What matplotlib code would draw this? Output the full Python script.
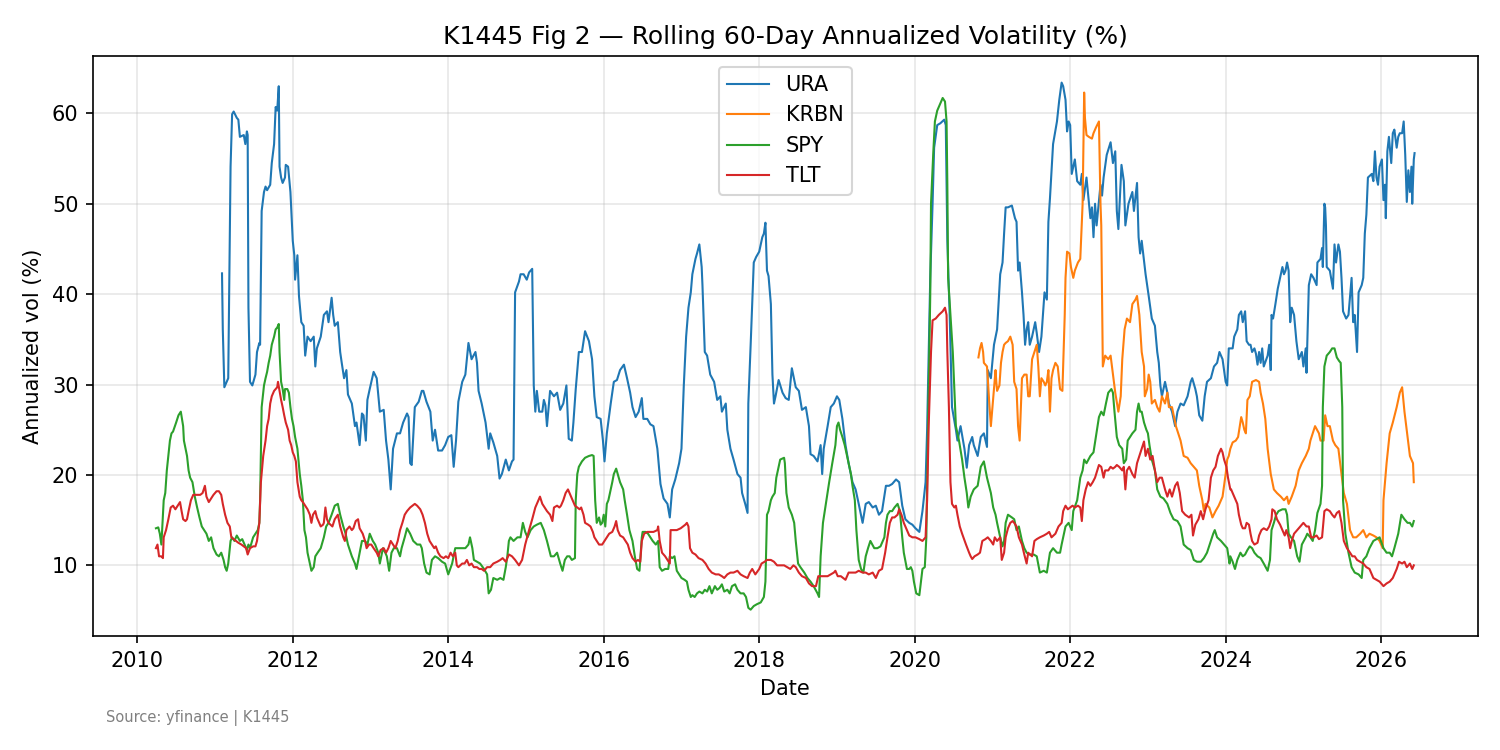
import matplotlib.pyplot as plt
import numpy as np

# Rolling 60-day annualized vol as (year, vol %)
ura = [
    (2011.09, 42.3), (2011.10, 36.1), (2011.12, 29.7), (2011.15, 30.3), (2011.17, 30.7),
    (2011.20, 54.1), (2011.22, 59.9), (2011.24, 60.2), (2011.28, 59.5), (2011.30, 59.3),
    (2011.32, 57.4), (2011.37, 57.6), (2011.39, 56.6), (2011.41, 58.0), (2011.42, 57.6),
    (2011.43, 38.5), (2011.45, 30.3), (2011.48, 29.9), (2011.52, 31.1), (2011.54, 33.6),
    (2011.57, 34.6), (2011.58, 34.4), (2011.60, 49.2), (2011.63, 51.3), (2011.65, 51.9),
    (2011.67, 51.5), (2011.71, 52.1), (2011.73, 54.5), (2011.76, 56.6), (2011.78, 60.7),
    (2011.80, 60.3), (2011.82, 63.0), (2011.83, 54.1), (2011.85, 52.9), (2011.87, 52.3),
    (2011.90, 52.9), (2011.91, 54.3), (2011.94, 54.1), (2011.97, 51.3), (2012.00, 45.9),
    (2012.02, 44.3), (2012.03, 41.6), (2012.06, 44.3), (2012.08, 39.8), (2012.11, 36.9),
    (2012.14, 36.5), (2012.16, 33.2), (2012.19, 35.3), (2012.23, 34.8), (2012.27, 35.3),
    (2012.29, 32.0), (2012.31, 34.0), (2012.36, 35.3), (2012.40, 37.7), (2012.44, 38.1),
    (2012.46, 36.9), (2012.50, 39.6), (2012.52, 37.7), (2012.54, 36.5), (2012.58, 36.9),
    (2012.61, 33.6), (2012.63, 32.4), (2012.66, 30.7), (2012.69, 31.6), (2012.71, 28.9),
    (2012.76, 27.9), (2012.80, 25.4), (2012.82, 25.8), (2012.86, 23.3), (2012.89, 26.8),
    (2012.91, 26.6), (2012.94, 23.8), (2012.96, 28.3), (2012.99, 29.5), (2013.04, 31.4),
    (2013.08, 30.7), (2013.12, 27.0), (2013.17, 27.2), (2013.20, 23.8), (2013.23, 21.7),
    (2013.26, 18.4), (2013.29, 22.9), (2013.34, 24.6), (2013.38, 24.6), (2013.42, 25.8),
    (2013.47, 26.8), (2013.49, 26.4), (2013.51, 21.3), (2013.53, 21.1), (2013.57, 27.5),
    (2013.62, 28.1), (2013.66, 29.3), (2013.68, 29.3), (2013.72, 28.1), (2013.77, 27.0),
    (2013.80, 23.8), (2013.83, 25.0), (2013.87, 22.7), (2013.92, 22.7), (2013.96, 23.3),
    (2014.00, 24.2), (2014.04, 24.4), (2014.07, 20.9), (2014.10, 23.8), (2014.13, 28.1),
    (2014.18, 30.3), (2014.22, 31.1), (2014.26, 34.6), (2014.30, 32.8), (2014.35, 33.6),
    (2014.37, 32.4), (2014.39, 29.3), (2014.43, 27.9), (2014.48, 25.8), (2014.52, 22.9),
    (2014.54, 24.6), (2014.58, 23.6), (2014.63, 22.1), (2014.66, 19.6), (2014.69, 20.1),
    (2014.74, 21.7), (2014.78, 20.5), (2014.82, 21.5), (2014.84, 21.7), (2014.86, 40.2),
    (2014.91, 41.4), (2014.93, 42.2), (2014.97, 42.2), (2015.01, 41.6), (2015.04, 42.4),
    (2015.08, 42.8), (2015.10, 29.9), (2015.12, 27.0), (2015.14, 29.3), (2015.17, 27.0),
    (2015.21, 27.0), (2015.23, 28.3), (2015.25, 27.7), (2015.27, 25.4), (2015.31, 29.3),
    (2015.36, 28.7), (2015.40, 29.1), (2015.44, 27.2), (2015.48, 27.9), (2015.52, 29.9),
    (2015.55, 24.0), (2015.59, 23.8), (2015.61, 25.8), (2015.64, 29.5), (2015.68, 33.6),
    (2015.72, 33.6), (2015.76, 35.9), (2015.81, 34.8), (2015.85, 32.8), (2015.88, 28.7),
    (2015.91, 26.4), (2015.96, 26.2), (2015.99, 23.8), (2016.01, 21.5), (2016.04, 24.6),
    (2016.09, 27.9), (2016.13, 30.3), (2016.17, 30.5), (2016.21, 31.6), (2016.26, 32.2),
    (2016.30, 30.7), (2016.34, 29.1), (2016.37, 27.5), (2016.41, 26.4), (2016.45, 27.0),
    (2016.49, 28.5), (2016.51, 26.2), (2016.56, 26.2), (2016.60, 25.6), (2016.64, 25.4),
    (2016.69, 22.9), (2016.73, 19.0), (2016.77, 17.4), (2016.82, 16.8), (2016.85, 15.3),
    (2016.88, 18.4), (2016.92, 19.5), (2016.97, 21.3), (2017.00, 22.9), (2017.03, 29.9),
    (2017.06, 35.3), (2017.09, 38.5), (2017.12, 40.2), (2017.14, 42.2), (2017.18, 43.9),
    (2017.20, 44.5), (2017.23, 45.5), (2017.26, 43.0), (2017.27, 41.0), (2017.30, 33.6),
    (2017.33, 33.2), (2017.37, 31.1), (2017.42, 30.3), (2017.46, 28.3), (2017.50, 28.7),
    (2017.52, 27.0), (2017.57, 27.9), (2017.59, 25.0), (2017.63, 22.9), (2017.67, 21.7),
    (2017.72, 20.1), (2017.76, 19.7), (2017.78, 18.0), (2017.82, 16.8), (2017.85, 15.8),
    (2017.86, 27.9), (2017.89, 34.4), (2017.93, 43.5), (2017.96, 44.1), (2018.00, 44.7),
    (2018.04, 46.3), (2018.06, 46.7), (2018.08, 47.9), (2018.10, 42.6), (2018.12, 42.0),
    (2018.15, 38.9), (2018.17, 31.1), (2018.19, 27.9), (2018.21, 28.7), (2018.25, 30.5),
    (2018.30, 29.1), (2018.34, 28.5), (2018.38, 28.3), (2018.42, 31.8), (2018.47, 29.7),
    (2018.51, 29.3), (2018.55, 27.2), (2018.60, 27.5), (2018.64, 25.4), (2018.66, 22.3),
    (2018.70, 22.1), (2018.75, 21.5), (2018.79, 23.3), (2018.81, 20.1), (2018.83, 22.9),
    (2018.88, 25.4), (2018.92, 27.5), (2018.96, 27.9), (2019.00, 28.7), (2019.03, 28.3),
    (2019.07, 26.2), (2019.11, 23.3), (2019.15, 21.3), (2019.20, 19.2), (2019.24, 18.4),
    (2019.28, 16.8), (2019.33, 14.7), (2019.37, 16.8), (2019.41, 17.0), (2019.46, 16.4),
    (2019.50, 16.6), (2019.54, 15.6), (2019.58, 16.0), (2019.63, 18.8), (2019.67, 18.8),
    (2019.71, 19.0), (2019.76, 19.5), (2019.80, 19.2), (2019.84, 16.6), (2019.88, 15.1),
    (2019.93, 14.7), (2019.97, 14.5), (2020.01, 14.1), (2020.06, 13.7), (2020.10, 16.0),
    (2020.14, 19.2), (2020.16, 25.0), (2020.20, 41.8), (2020.23, 50.0), (2020.25, 56.2),
    (2020.29, 58.7), (2020.33, 58.9), (2020.38, 59.3), (2020.40, 58.7), (2020.42, 45.9),
    (2020.45, 37.7), (2020.48, 27.5), (2020.53, 25.0), (2020.55, 23.8), (2020.59, 25.4),
    (2020.64, 22.9), (2020.67, 20.8), (2020.70, 23.3), (2020.74, 24.2), (2020.76, 23.3),
    (2020.81, 22.1), (2020.85, 24.2), (2020.89, 24.6), (2020.93, 23.1), (2020.94, 31.6),
    (2020.98, 30.7), (2021.02, 34.4), (2021.06, 36.1), (2021.10, 42.2), (2021.13, 43.5),
    (2021.15, 46.7), (2021.17, 49.6), (2021.20, 49.6), (2021.25, 49.8), (2021.29, 48.4),
    (2021.31, 48.0), (2021.33, 42.6), (2021.35, 43.5), (2021.38, 40.2), (2021.40, 37.7),
    (2021.42, 34.4), (2021.44, 36.1), (2021.46, 36.9), (2021.48, 34.4), (2021.51, 35.3),
    (2021.55, 36.9), (2021.57, 35.7), (2021.60, 33.6), (2021.63, 35.3), (2021.67, 40.2),
    (2021.70, 39.4), (2021.72, 48.0), (2021.74, 50.6), (2021.78, 56.6), (2021.83, 59.1),
    (2021.86, 61.5), (2021.89, 63.4), (2021.91, 63.0), (2021.94, 61.5), (2021.96, 58.0),
    (2021.98, 59.1), (2022.00, 58.7), (2022.02, 53.3), (2022.04, 54.1), (2022.06, 54.9),
    (2022.09, 52.5), (2022.13, 52.1), (2022.15, 53.3), (2022.17, 50.4), (2022.21, 52.9),
    (2022.26, 48.4), (2022.28, 49.6), (2022.30, 46.3), (2022.32, 50.0), (2022.34, 47.6),
    (2022.39, 52.1), (2022.41, 50.9), (2022.43, 52.9), (2022.47, 55.4), (2022.52, 56.8),
    (2022.55, 54.5), (2022.58, 55.8), (2022.60, 49.2), (2022.62, 47.2), (2022.66, 54.3),
    (2022.69, 52.5), (2022.71, 47.6), (2022.75, 50.0), (2022.80, 51.3), (2022.82, 49.2),
    (2022.86, 52.3), (2022.88, 46.3), (2022.90, 44.5), (2022.92, 45.9), (2022.97, 42.2),
    (2023.01, 39.8), (2023.05, 37.3), (2023.09, 36.5), (2023.12, 33.6), (2023.14, 32.4),
    (2023.16, 29.9), (2023.18, 28.7), (2023.22, 30.3), (2023.25, 29.1), (2023.27, 27.9),
    (2023.31, 27.0), (2023.35, 25.4), (2023.38, 27.0), (2023.42, 27.9), (2023.46, 27.7),
    (2023.51, 28.7), (2023.55, 30.3), (2023.57, 30.7), (2023.61, 29.5), (2023.63, 28.7),
    (2023.66, 26.6), (2023.70, 26.0), (2023.73, 28.7), (2023.76, 30.3), (2023.81, 30.7),
    (2023.85, 32.0), (2023.89, 32.4), (2023.92, 33.6), (2023.96, 32.8), (2024.00, 30.3),
    (2024.02, 29.9), (2024.04, 34.0), (2024.09, 34.0), (2024.11, 35.3), (2024.15, 36.1),
    (2024.17, 37.7), (2024.20, 38.1), (2024.22, 36.9), (2024.25, 38.1), (2024.27, 34.8),
    (2024.30, 34.4), (2024.32, 34.4), (2024.34, 33.6), (2024.37, 34.0), (2024.39, 33.4),
    (2024.41, 32.2), (2024.43, 33.6), (2024.45, 32.4), (2024.47, 34.0), (2024.49, 32.0),
    (2024.54, 33.2), (2024.56, 34.4), (2024.58, 31.6), (2024.59, 37.7), (2024.61, 37.3),
    (2024.64, 38.9), (2024.67, 40.6), (2024.70, 41.8), (2024.73, 43.0), (2024.75, 42.2),
    (2024.77, 42.6), (2024.79, 43.5), (2024.81, 42.6), (2024.83, 36.9), (2024.85, 38.5),
    (2024.88, 37.7), (2024.91, 34.8), (2024.94, 32.8), (2024.98, 33.6), (2025.00, 32.0),
    (2025.03, 34.0), (2025.04, 31.3), (2025.05, 34.4), (2025.07, 41.0), (2025.10, 42.2),
    (2025.13, 41.8), (2025.17, 41.0), (2025.18, 43.5), (2025.22, 43.9), (2025.24, 45.1),
    (2025.25, 43.0), (2025.27, 50.0), (2025.28, 49.6), (2025.29, 47.6), (2025.30, 43.0),
    (2025.34, 42.6), (2025.38, 40.6), (2025.40, 45.5), (2025.42, 43.5), (2025.45, 45.5),
    (2025.47, 44.7), (2025.49, 41.8), (2025.51, 38.1), (2025.55, 37.3), (2025.58, 37.7),
    (2025.60, 39.8), (2025.62, 41.8), (2025.64, 36.9), (2025.66, 37.7), (2025.69, 33.6),
    (2025.71, 40.2), (2025.75, 41.0), (2025.77, 41.8), (2025.79, 46.7), (2025.81, 48.8),
    (2025.83, 52.9), (2025.88, 53.3), (2025.90, 52.5), (2025.92, 55.8), (2025.94, 52.9),
    (2025.96, 52.1), (2025.98, 54.1), (2026.01, 54.9), (2026.03, 50.4), (2026.05, 52.1),
    (2026.06, 48.4), (2026.08, 55.8), (2026.10, 57.4), (2026.13, 54.5), (2026.15, 57.8),
    (2026.17, 58.2), (2026.20, 56.2), (2026.22, 57.4), (2026.24, 57.8), (2026.27, 57.8),
    (2026.29, 59.1), (2026.31, 55.4), (2026.33, 50.2), (2026.35, 53.7), (2026.37, 51.3),
    (2026.39, 54.1), (2026.40, 50.0), (2026.42, 54.9), (2026.43, 55.6),
]

krbn = [
    (2020.82, 33.0), (2020.84, 34.0), (2020.86, 34.6), (2020.88, 33.6), (2020.89, 32.4),
    (2020.93, 32.0), (2020.94, 30.7), (2020.96, 27.9), (2020.98, 25.4), (2021.00, 27.5),
    (2021.02, 29.5), (2021.04, 31.6), (2021.05, 30.3), (2021.06, 29.3), (2021.09, 29.9),
    (2021.11, 32.4), (2021.13, 33.6), (2021.15, 34.4), (2021.17, 34.6), (2021.20, 34.8),
    (2021.23, 35.3), (2021.26, 34.4), (2021.28, 30.3), (2021.31, 29.5), (2021.33, 25.4),
    (2021.35, 23.8), (2021.38, 30.7), (2021.41, 31.1), (2021.44, 31.1), (2021.46, 28.7),
    (2021.48, 28.7), (2021.51, 32.8), (2021.54, 33.6), (2021.57, 34.4), (2021.59, 32.0),
    (2021.61, 28.7), (2021.63, 30.7), (2021.66, 30.3), (2021.68, 29.9), (2021.70, 30.3),
    (2021.72, 31.6), (2021.74, 27.0), (2021.76, 30.7), (2021.78, 31.6), (2021.81, 32.4),
    (2021.84, 32.0), (2021.87, 29.5), (2021.90, 29.3), (2021.93, 37.7), (2021.94, 41.8),
    (2021.96, 44.7), (2021.99, 44.5), (2022.01, 43.0), (2022.04, 41.8), (2022.06, 42.6),
    (2022.10, 43.5), (2022.13, 43.9), (2022.16, 50.0), (2022.17, 55.8), (2022.18, 62.3),
    (2022.19, 59.5), (2022.21, 57.6), (2022.24, 57.4), (2022.28, 57.2), (2022.30, 57.8),
    (2022.33, 58.4), (2022.37, 59.1), (2022.39, 50.0), (2022.40, 47.6), (2022.42, 32.0),
    (2022.45, 33.2), (2022.49, 32.8), (2022.52, 33.2), (2022.55, 31.1), (2022.58, 29.1),
    (2022.62, 27.0), (2022.65, 28.7), (2022.67, 32.8), (2022.70, 36.1), (2022.73, 37.3),
    (2022.77, 36.9), (2022.80, 38.9), (2022.84, 39.4), (2022.86, 39.8), (2022.89, 37.7),
    (2022.92, 33.6), (2022.95, 32.0), (2022.96, 28.7), (2022.99, 29.5), (2023.01, 31.1),
    (2023.03, 30.3), (2023.05, 27.9), (2023.09, 28.3), (2023.12, 27.5), (2023.15, 27.0),
    (2023.18, 28.7), (2023.22, 27.9), (2023.25, 29.1), (2023.27, 27.5), (2023.31, 27.5),
    (2023.36, 25.4), (2023.39, 24.6), (2023.42, 23.8), (2023.46, 22.1), (2023.51, 21.9),
    (2023.55, 21.3), (2023.59, 20.9), (2023.63, 20.5), (2023.66, 18.8), (2023.70, 17.2),
    (2023.72, 16.0), (2023.74, 16.8), (2023.79, 16.4), (2023.83, 15.3), (2023.87, 16.0),
    (2023.91, 16.6), (2023.96, 17.6), (2024.00, 20.1), (2024.02, 21.7), (2024.04, 22.1),
    (2024.06, 22.9), (2024.09, 23.6), (2024.13, 23.8), (2024.16, 24.2), (2024.20, 26.4),
    (2024.22, 25.8), (2024.24, 25.0), (2024.26, 24.6), (2024.28, 28.3), (2024.31, 28.7),
    (2024.34, 30.3), (2024.39, 30.5), (2024.43, 30.3), (2024.45, 29.1), (2024.48, 27.9),
    (2024.51, 26.2), (2024.54, 22.9), (2024.58, 20.1), (2024.62, 18.4), (2024.66, 18.0),
    (2024.71, 17.6), (2024.75, 17.2), (2024.79, 17.6), (2024.81, 16.8), (2024.85, 17.6),
    (2024.90, 18.8), (2024.94, 20.5), (2024.98, 21.3), (2025.03, 22.1), (2025.07, 22.9),
    (2025.09, 23.8), (2025.12, 24.6), (2025.15, 25.4), (2025.20, 24.6), (2025.22, 23.8),
    (2025.26, 23.8), (2025.28, 26.6), (2025.31, 25.4), (2025.34, 25.4), (2025.38, 23.8),
    (2025.41, 23.3), (2025.45, 22.9), (2025.49, 20.1), (2025.52, 18.0), (2025.56, 16.8),
    (2025.60, 13.9), (2025.64, 13.1), (2025.68, 13.1), (2025.73, 13.5), (2025.77, 13.9),
    (2025.81, 13.1), (2025.85, 13.5), (2025.90, 13.3), (2025.94, 13.1), (2025.98, 12.7),
    (2026.02, 11.9), (2026.03, 17.2), (2026.07, 21.3), (2026.11, 24.6), (2026.15, 25.8),
    (2026.20, 27.5), (2026.24, 29.1), (2026.27, 29.7), (2026.30, 27.0), (2026.34, 24.2),
    (2026.37, 22.1), (2026.41, 21.3), (2026.42, 19.2),
]

spy = [
    (2010.24, 14.1), (2010.27, 14.2), (2010.29, 13.5), (2010.31, 12.3), (2010.34, 17.2),
    (2010.36, 18.0), (2010.38, 20.5), (2010.40, 22.1), (2010.42, 23.8), (2010.44, 24.6),
    (2010.46, 24.8), (2010.50, 25.8), (2010.53, 26.6), (2010.56, 27.0), (2010.59, 25.4),
    (2010.60, 23.8), (2010.64, 22.1), (2010.66, 20.5), (2010.68, 19.7), (2010.71, 19.2),
    (2010.74, 17.6), (2010.77, 16.4), (2010.80, 15.3), (2010.83, 14.3), (2010.86, 13.9),
    (2010.89, 13.5), (2010.92, 12.7), (2010.95, 13.1), (2010.98, 11.9), (2011.02, 11.2),
    (2011.05, 11.0), (2011.08, 11.4), (2011.11, 10.6), (2011.13, 9.8), (2011.15, 9.4),
    (2011.17, 10.2), (2011.20, 12.7), (2011.22, 13.1), (2011.25, 12.7), (2011.28, 13.3),
    (2011.32, 12.7), (2011.35, 12.9), (2011.38, 12.3), (2011.41, 11.7), (2011.43, 12.3),
    (2011.45, 11.9), (2011.49, 13.1), (2011.52, 13.5), (2011.55, 13.9), (2011.57, 14.7),
    (2011.58, 17.2), (2011.60, 27.5), (2011.63, 29.9), (2011.65, 30.7), (2011.67, 31.4),
    (2011.69, 32.4), (2011.71, 33.2), (2011.73, 34.4), (2011.76, 35.3), (2011.78, 36.1),
    (2011.80, 36.3), (2011.82, 36.7), (2011.83, 33.6), (2011.85, 30.3), (2011.87, 29.5),
    (2011.89, 28.3), (2011.90, 29.5), (2011.93, 29.5), (2011.95, 29.1), (2011.97, 27.5),
    (2011.99, 26.2), (2012.01, 25.4), (2012.03, 24.2), (2012.06, 22.9), (2012.09, 20.1),
    (2012.11, 18.8), (2012.13, 17.2), (2012.15, 13.9), (2012.17, 13.1), (2012.19, 11.4),
    (2012.22, 10.2), (2012.24, 9.4), (2012.27, 9.8), (2012.29, 11.0), (2012.32, 11.4),
    (2012.36, 11.9), (2012.40, 13.1), (2012.43, 14.3), (2012.46, 14.7), (2012.50, 15.6),
    (2012.54, 16.6), (2012.58, 16.8), (2012.61, 15.6), (2012.65, 14.3), (2012.68, 13.5),
    (2012.71, 12.3), (2012.76, 11.0), (2012.80, 10.2), (2012.82, 9.6), (2012.86, 11.4),
    (2012.89, 12.7), (2012.93, 12.7), (2012.96, 12.3), (2012.99, 13.5), (2013.03, 12.7),
    (2013.06, 12.3), (2013.10, 11.4), (2013.12, 10.2), (2013.16, 11.9), (2013.19, 11.4),
    (2013.21, 11.0), (2013.24, 9.4), (2013.27, 11.4), (2013.30, 11.9), (2013.34, 11.9),
    (2013.38, 11.0), (2013.40, 11.9), (2013.44, 13.1), (2013.47, 14.1), (2013.51, 13.5),
    (2013.55, 12.7), (2013.60, 12.3), (2013.64, 12.3), (2013.66, 11.9), (2013.69, 10.2),
    (2013.72, 9.2), (2013.76, 9.0), (2013.79, 10.6), (2013.83, 11.0), (2013.87, 10.8),
    (2013.92, 10.4), (2013.96, 10.2), (2014.00, 9.0), (2014.05, 10.2), (2014.09, 11.9),
    (2014.13, 11.9), (2014.18, 11.9), (2014.22, 11.9), (2014.26, 12.3), (2014.28, 13.1),
    (2014.31, 11.9), (2014.33, 10.6), (2014.37, 10.4), (2014.41, 10.2), (2014.46, 9.6),
    (2014.50, 9.0), (2014.52, 6.9), (2014.55, 7.3), (2014.58, 8.6), (2014.63, 8.4),
    (2014.67, 8.6), (2014.71, 8.4), (2014.74, 9.8), (2014.76, 11.0), (2014.78, 12.7),
    (2014.80, 13.1), (2014.84, 12.7), (2014.89, 13.1), (2014.93, 13.1), (2014.96, 14.7),
    (2014.99, 13.7), (2015.02, 13.1), (2015.06, 13.9), (2015.10, 14.3), (2015.14, 14.5),
    (2015.19, 14.7), (2015.23, 13.9), (2015.27, 12.7), (2015.32, 11.0), (2015.36, 11.0),
    (2015.40, 11.4), (2015.44, 10.2), (2015.47, 9.4), (2015.50, 10.6), (2015.53, 11.0),
    (2015.56, 11.0), (2015.59, 10.6), (2015.63, 10.8), (2015.64, 17.2), (2015.66, 20.1),
    (2015.68, 20.9), (2015.72, 21.5), (2015.76, 21.9), (2015.81, 22.1), (2015.85, 22.2),
    (2015.87, 22.1), (2015.89, 17.2), (2015.91, 14.7), (2015.94, 15.3), (2015.96, 14.5),
    (2015.98, 14.7), (2016.00, 15.6), (2016.02, 14.3), (2016.04, 16.8), (2016.06, 17.2),
    (2016.09, 18.4), (2016.11, 19.2), (2016.13, 20.1), (2016.16, 20.7), (2016.18, 20.1),
    (2016.21, 19.2), (2016.25, 18.4), (2016.27, 17.2), (2016.30, 15.6), (2016.33, 13.9),
    (2016.37, 12.7), (2016.40, 11.0), (2016.43, 9.6), (2016.46, 9.4), (2016.49, 13.1),
    (2016.50, 13.7), (2016.54, 13.7), (2016.57, 13.5), (2016.60, 13.1), (2016.63, 12.7),
    (2016.67, 12.3), (2016.70, 12.7), (2016.72, 9.8), (2016.75, 9.4), (2016.79, 9.6),
    (2016.83, 9.6), (2016.85, 11.0), (2016.88, 10.8), (2016.91, 11.0), (2016.94, 9.4),
    (2016.97, 9.0), (2017.00, 8.6), (2017.04, 8.4), (2017.07, 8.2), (2017.09, 7.3),
    (2017.12, 6.5), (2017.14, 6.7), (2017.17, 6.5), (2017.20, 6.9), (2017.23, 7.1),
    (2017.27, 6.9), (2017.30, 7.3), (2017.33, 7.1), (2017.36, 7.7), (2017.39, 6.9),
    (2017.43, 7.7), (2017.46, 7.3), (2017.49, 7.5), (2017.52, 7.9), (2017.55, 7.1),
    (2017.59, 7.3), (2017.62, 6.9), (2017.65, 7.7), (2017.69, 7.9), (2017.72, 7.3),
    (2017.76, 6.9), (2017.80, 6.9), (2017.83, 6.5), (2017.86, 5.3), (2017.89, 5.1),
    (2017.93, 5.5), (2017.97, 5.7), (2018.02, 5.9), (2018.06, 6.5), (2018.08, 8.2),
    (2018.10, 15.6), (2018.12, 16.0), (2018.15, 17.2), (2018.17, 17.6), (2018.20, 18.0),
    (2018.22, 19.7), (2018.25, 20.9), (2018.27, 21.7), (2018.32, 21.9), (2018.33, 21.3),
    (2018.35, 18.0), (2018.38, 16.4), (2018.42, 15.6), (2018.45, 14.7), (2018.47, 12.7),
    (2018.50, 10.2), (2018.53, 9.8), (2018.58, 9.2), (2018.62, 8.6), (2018.66, 8.2),
    (2018.70, 7.7), (2018.75, 6.9), (2018.77, 6.5), (2018.79, 11.0), (2018.82, 14.7),
    (2018.85, 16.4), (2018.90, 19.2), (2018.94, 21.3), (2018.98, 23.3), (2019.00, 25.4),
    (2019.02, 25.8), (2019.04, 25.0), (2019.07, 24.2), (2019.10, 23.3), (2019.13, 22.1),
    (2019.18, 20.1), (2019.20, 18.8), (2019.23, 17.2), (2019.25, 13.9), (2019.28, 10.6),
    (2019.31, 9.6), (2019.34, 9.2), (2019.37, 11.0), (2019.40, 11.9), (2019.43, 12.7),
    (2019.48, 11.9), (2019.52, 11.9), (2019.56, 12.1), (2019.61, 13.1), (2019.63, 14.7),
    (2019.65, 15.6), (2019.68, 16.0), (2019.71, 16.0), (2019.74, 16.4), (2019.78, 16.8),
    (2019.81, 16.0), (2019.84, 13.1), (2019.86, 11.4), (2019.90, 9.6), (2019.93, 9.6),
    (2019.95, 9.8), (2019.97, 9.4), (2019.99, 8.2), (2020.02, 6.9), (2020.06, 6.7),
    (2020.08, 8.2), (2020.10, 9.6), (2020.13, 9.8), (2020.15, 13.1), (2020.16, 19.2),
    (2020.18, 29.5), (2020.20, 39.8), (2020.21, 50.0), (2020.24, 55.8), (2020.26, 59.1),
    (2020.29, 60.3), (2020.33, 61.1), (2020.36, 61.7), (2020.39, 61.3), (2020.41, 59.1),
    (2020.42, 52.1), (2020.43, 41.8), (2020.46, 37.7), (2020.49, 33.6), (2020.51, 29.5),
    (2020.53, 25.4), (2020.57, 23.8), (2020.61, 21.7), (2020.64, 19.7), (2020.67, 18.0),
    (2020.69, 16.4), (2020.72, 17.6), (2020.76, 18.4), (2020.81, 18.8), (2020.85, 20.9),
    (2020.89, 21.5), (2020.93, 19.7), (2020.98, 18.0), (2021.01, 16.4), (2021.04, 15.6),
    (2021.06, 14.7), (2021.10, 13.1), (2021.13, 12.1), (2021.15, 12.7), (2021.17, 14.7),
    (2021.20, 15.6), (2021.25, 15.3), (2021.28, 15.1), (2021.31, 13.9), (2021.34, 14.3),
    (2021.38, 12.7), (2021.41, 11.9), (2021.44, 11.4), (2021.48, 11.2), (2021.53, 11.2),
    (2021.57, 11.0), (2021.61, 9.2), (2021.66, 9.4), (2021.70, 9.2), (2021.74, 11.4),
    (2021.78, 11.9), (2021.83, 11.4), (2021.87, 11.4), (2021.89, 12.3), (2021.91, 13.1),
    (2021.94, 14.3), (2021.98, 14.7), (2022.02, 13.9), (2022.04, 16.0), (2022.09, 17.2),
    (2022.13, 19.7), (2022.16, 20.5), (2022.18, 21.7), (2022.21, 21.3), (2022.26, 22.1),
    (2022.30, 22.5), (2022.33, 24.2), (2022.37, 26.4), (2022.40, 27.0), (2022.43, 26.6),
    (2022.46, 27.9), (2022.49, 29.1), (2022.53, 29.5), (2022.55, 29.1), (2022.57, 27.0),
    (2022.60, 24.2), (2022.63, 23.3), (2022.67, 22.9), (2022.69, 21.3), (2022.72, 21.7),
    (2022.74, 23.8), (2022.77, 24.2), (2022.80, 24.6), (2022.84, 25.0), (2022.86, 27.0),
    (2022.88, 27.9), (2022.90, 27.0), (2022.92, 27.0), (2022.95, 25.8), (2022.98, 25.0),
    (2023.00, 24.6), (2023.02, 23.3), (2023.05, 21.7), (2023.09, 20.5), (2023.12, 18.4),
    (2023.16, 17.6), (2023.20, 17.4), (2023.25, 16.8), (2023.29, 15.8), (2023.33, 15.1),
    (2023.38, 14.9), (2023.42, 14.3), (2023.46, 12.3), (2023.51, 11.9), (2023.55, 11.7),
    (2023.59, 10.6), (2023.63, 10.4), (2023.68, 10.4), (2023.72, 10.8), (2023.76, 11.4),
    (2023.81, 12.7), (2023.84, 13.5), (2023.86, 13.9), (2023.89, 13.1), (2023.94, 12.7),
    (2023.98, 12.3), (2024.02, 11.9), (2024.05, 10.2), (2024.06, 11.0), (2024.09, 10.4),
    (2024.12, 9.6), (2024.15, 10.6), (2024.19, 11.4), (2024.22, 11.0), (2024.25, 11.2),
    (2024.28, 11.7), (2024.31, 12.1), (2024.34, 11.9), (2024.37, 11.4), (2024.41, 11.0),
    (2024.45, 10.8), (2024.49, 10.2), (2024.54, 9.4), (2024.57, 10.6), (2024.59, 13.9),
    (2024.62, 14.7), (2024.65, 15.6), (2024.68, 16.0), (2024.73, 16.2), (2024.77, 16.2),
    (2024.79, 15.6), (2024.81, 13.5), (2024.84, 13.1), (2024.88, 12.7), (2024.92, 11.0),
    (2024.95, 10.4), (2024.98, 12.3), (2025.03, 13.1), (2025.05, 13.5), (2025.09, 13.1),
    (2025.12, 12.7), (2025.15, 13.9), (2025.18, 15.8), (2025.22, 16.8), (2025.24, 18.8),
    (2025.25, 27.5), (2025.27, 32.0), (2025.30, 33.2), (2025.34, 33.6), (2025.37, 34.0),
    (2025.40, 34.0), (2025.43, 33.0), (2025.46, 32.6), (2025.48, 32.4), (2025.50, 27.5),
    (2025.51, 17.2), (2025.54, 13.5), (2025.58, 11.4), (2025.62, 9.8), (2025.66, 9.2),
    (2025.71, 9.0), (2025.75, 8.6), (2025.77, 10.6), (2025.81, 11.0), (2025.85, 11.9),
    (2025.90, 12.7), (2025.94, 12.9), (2025.98, 13.1), (2026.03, 11.9), (2026.07, 11.4),
    (2026.11, 11.4), (2026.14, 11.0), (2026.17, 11.9), (2026.22, 13.5), (2026.26, 15.6),
    (2026.30, 15.1), (2026.34, 14.7), (2026.37, 14.7), (2026.40, 14.3), (2026.42, 14.9),
]

tlt = [
    (2010.24, 11.9), (2010.26, 12.3), (2010.28, 11.0), (2010.31, 11.0), (2010.33, 10.8),
    (2010.34, 13.1), (2010.37, 13.9), (2010.40, 15.1), (2010.43, 16.4), (2010.46, 16.6),
    (2010.49, 16.2), (2010.52, 16.6), (2010.55, 17.0), (2010.57, 16.0), (2010.59, 15.1),
    (2010.62, 14.9), (2010.64, 15.1), (2010.66, 16.0), (2010.69, 17.2), (2010.72, 17.8),
    (2010.77, 17.8), (2010.81, 17.8), (2010.84, 18.0), (2010.87, 18.8), (2010.89, 17.6),
    (2010.92, 17.0), (2010.95, 17.4), (2010.98, 17.8), (2011.02, 18.2), (2011.05, 18.2),
    (2011.08, 17.8), (2011.10, 16.8), (2011.13, 15.6), (2011.16, 14.7), (2011.19, 14.3),
    (2011.21, 13.1), (2011.24, 12.9), (2011.27, 12.7), (2011.30, 12.5), (2011.34, 12.3),
    (2011.37, 12.1), (2011.40, 11.9), (2011.42, 11.2), (2011.45, 11.9), (2011.49, 12.1),
    (2011.52, 12.1), (2011.54, 12.7), (2011.57, 14.7), (2011.59, 19.2), (2011.62, 22.1),
    (2011.65, 23.8), (2011.67, 25.4), (2011.69, 26.2), (2011.71, 27.9), (2011.73, 28.7),
    (2011.76, 29.3), (2011.78, 29.5), (2011.80, 29.7), (2011.81, 30.3), (2011.83, 29.3),
    (2011.85, 28.3), (2011.87, 27.5), (2011.89, 26.6), (2011.91, 25.8), (2011.94, 25.0),
    (2011.96, 23.8), (2011.98, 23.3), (2012.00, 22.5), (2012.02, 22.1), (2012.04, 21.5),
    (2012.06, 19.2), (2012.09, 17.6), (2012.11, 17.2), (2012.13, 17.0), (2012.16, 16.6),
    (2012.19, 16.2), (2012.22, 15.6), (2012.24, 14.7), (2012.26, 15.6), (2012.29, 16.0),
    (2012.31, 15.3), (2012.34, 14.7), (2012.36, 14.3), (2012.39, 14.5), (2012.40, 14.7),
    (2012.42, 16.4), (2012.44, 15.1), (2012.46, 14.7), (2012.51, 14.3), (2012.54, 15.1),
    (2012.58, 15.6), (2012.61, 14.3), (2012.65, 13.1), (2012.67, 12.7), (2012.69, 13.9),
    (2012.73, 14.3), (2012.76, 13.9), (2012.78, 14.1), (2012.81, 14.9), (2012.84, 15.1),
    (2012.86, 14.1), (2012.90, 13.5), (2012.93, 12.7), (2012.95, 11.9), (2012.98, 12.3),
    (2013.01, 12.3), (2013.04, 11.9), (2013.08, 11.4), (2013.10, 11.0), (2013.13, 11.7),
    (2013.17, 11.9), (2013.20, 11.4), (2013.23, 11.9), (2013.26, 12.7), (2013.29, 12.3),
    (2013.32, 11.9), (2013.35, 12.7), (2013.38, 13.9), (2013.41, 14.7), (2013.44, 15.6),
    (2013.47, 16.0), (2013.51, 16.4), (2013.54, 16.6), (2013.57, 16.8), (2013.60, 16.6),
    (2013.64, 16.2), (2013.67, 15.6), (2013.70, 14.7), (2013.73, 13.5), (2013.76, 12.7),
    (2013.79, 12.3), (2013.82, 11.9), (2013.84, 12.1), (2013.87, 11.4), (2013.90, 11.0),
    (2013.94, 10.8), (2013.97, 11.0), (2014.00, 10.8), (2014.03, 11.4), (2014.06, 11.0),
    (2014.09, 11.4), (2014.11, 10.0), (2014.13, 9.8), (2014.18, 10.2), (2014.21, 10.2),
    (2014.24, 10.6), (2014.27, 10.0), (2014.30, 10.2), (2014.33, 9.8), (2014.37, 9.8),
    (2014.40, 9.6), (2014.43, 9.6), (2014.46, 9.4), (2014.50, 9.8), (2014.54, 9.8),
    (2014.58, 10.2), (2014.63, 10.4), (2014.67, 10.6), (2014.70, 10.8), (2014.74, 10.4),
    (2014.78, 11.2), (2014.82, 11.0), (2014.86, 10.6), (2014.91, 10.0), (2014.95, 10.6),
    (2014.99, 12.3), (2015.04, 13.9), (2015.08, 15.1), (2015.12, 16.4), (2015.15, 17.0),
    (2015.18, 17.6), (2015.21, 16.8), (2015.24, 16.4), (2015.27, 16.0), (2015.31, 15.6),
    (2015.34, 14.9), (2015.36, 16.4), (2015.40, 16.6), (2015.43, 16.4), (2015.45, 16.6),
    (2015.48, 17.2), (2015.51, 18.0), (2015.54, 18.4), (2015.57, 17.8), (2015.60, 17.2),
    (2015.63, 16.6), (2015.66, 16.4), (2015.69, 16.2), (2015.71, 16.4), (2015.74, 15.6),
    (2015.76, 14.7), (2015.80, 14.5), (2015.83, 14.3), (2015.86, 13.7), (2015.88, 13.1),
    (2015.91, 12.7), (2015.94, 12.3), (2015.98, 12.3), (2016.01, 12.7), (2016.04, 13.1),
    (2016.07, 13.5), (2016.11, 13.7), (2016.14, 14.3), (2016.16, 14.9), (2016.18, 13.9),
    (2016.21, 13.3), (2016.25, 13.1), (2016.28, 12.7), (2016.31, 12.3), (2016.34, 11.4),
    (2016.37, 10.8), (2016.41, 10.4), (2016.44, 10.6), (2016.47, 10.4), (2016.49, 12.7),
    (2016.52, 13.5), (2016.56, 13.7), (2016.60, 13.7), (2016.64, 13.7), (2016.69, 13.9),
    (2016.70, 14.3), (2016.72, 12.7), (2016.75, 11.4), (2016.79, 11.0), (2016.82, 10.6),
    (2016.85, 10.2), (2016.86, 13.9), (2016.90, 13.9), (2016.94, 13.9), (2016.99, 14.1),
    (2017.02, 14.3), (2017.05, 14.5), (2017.07, 14.7), (2017.09, 14.3), (2017.11, 11.9),
    (2017.14, 11.4), (2017.18, 11.2), (2017.22, 10.8), (2017.27, 10.6), (2017.31, 10.2),
    (2017.35, 9.6), (2017.39, 9.2), (2017.44, 9.0), (2017.48, 9.0), (2017.52, 8.8),
    (2017.55, 8.6), (2017.59, 9.0), (2017.63, 9.2), (2017.67, 9.2), (2017.72, 9.4),
    (2017.76, 9.0), (2017.80, 8.8), (2017.85, 8.6), (2017.88, 9.2), (2017.91, 9.6),
    (2017.95, 9.0), (2018.00, 9.6), (2018.03, 10.2), (2018.07, 10.4), (2018.10, 10.6),
    (2018.15, 10.6), (2018.19, 10.4), (2018.23, 10.0), (2018.27, 10.0), (2018.32, 10.0),
    (2018.36, 9.8), (2018.40, 9.6), (2018.44, 10.0), (2018.47, 9.8), (2018.51, 9.2),
    (2018.55, 8.8), (2018.60, 8.6), (2018.64, 8.0), (2018.68, 7.7), (2018.73, 7.7),
    (2018.76, 8.8), (2018.79, 8.8), (2018.83, 8.8), (2018.88, 8.8), (2018.92, 9.0),
    (2018.96, 9.2), (2018.98, 9.4), (2019.01, 8.8), (2019.05, 8.8), (2019.08, 8.6),
    (2019.11, 8.4), (2019.15, 9.2), (2019.20, 9.2), (2019.24, 9.2), (2019.28, 9.4),
    (2019.33, 9.2), (2019.37, 9.2), (2019.41, 9.0), (2019.46, 9.2), (2019.50, 8.6),
    (2019.54, 9.4), (2019.58, 9.6), (2019.62, 11.4), (2019.65, 13.1), (2019.68, 14.7),
    (2019.71, 15.3), (2019.74, 15.3), (2019.78, 15.6), (2019.80, 16.2), (2019.83, 15.6),
    (2019.86, 14.7), (2019.90, 13.9), (2019.93, 13.3), (2019.97, 13.1), (2020.01, 13.1),
    (2020.06, 12.9), (2020.10, 12.7), (2020.14, 13.1), (2020.16, 17.2), (2020.18, 25.4),
    (2020.21, 33.6), (2020.23, 37.1), (2020.27, 37.3), (2020.31, 37.7), (2020.36, 38.1),
    (2020.39, 38.5), (2020.41, 37.7), (2020.42, 33.6), (2020.44, 27.5), (2020.46, 19.2),
    (2020.48, 16.8), (2020.51, 16.4), (2020.53, 16.6), (2020.55, 15.6), (2020.58, 14.3),
    (2020.61, 13.5), (2020.66, 12.3), (2020.70, 11.4), (2020.72, 11.0), (2020.74, 10.7),
    (2020.77, 11.0), (2020.81, 11.2), (2020.84, 11.4), (2020.87, 12.7), (2020.91, 12.9),
    (2020.94, 13.1), (2020.98, 12.7), (2021.01, 12.3), (2021.03, 13.1), (2021.06, 12.7),
    (2021.10, 13.1), (2021.12, 10.6), (2021.15, 11.4), (2021.17, 13.1), (2021.20, 14.1),
    (2021.23, 14.7), (2021.26, 14.9), (2021.28, 14.7), (2021.31, 14.3), (2021.34, 13.1),
    (2021.38, 12.3), (2021.41, 11.2), (2021.44, 10.2), (2021.46, 11.4), (2021.51, 11.0),
    (2021.54, 12.7), (2021.57, 12.9), (2021.61, 13.1), (2021.66, 13.3), (2021.70, 13.5),
    (2021.73, 13.7), (2021.76, 13.1), (2021.81, 13.5), (2021.85, 14.3), (2021.89, 14.7),
    (2021.91, 16.0), (2021.94, 16.6), (2021.97, 16.2), (2022.00, 16.4), (2022.03, 16.6),
    (2022.06, 16.4), (2022.10, 16.6), (2022.13, 16.4), (2022.15, 14.9), (2022.17, 17.2),
    (2022.20, 18.4), (2022.23, 19.2), (2022.26, 18.8), (2022.29, 19.2), (2022.32, 19.7),
    (2022.37, 21.1), (2022.40, 20.9), (2022.43, 19.7), (2022.45, 20.5), (2022.49, 20.5),
    (2022.52, 20.9), (2022.55, 20.7), (2022.58, 20.9), (2022.60, 21.1), (2022.63, 20.9),
    (2022.67, 20.5), (2022.69, 20.9), (2022.71, 18.4), (2022.73, 20.5), (2022.76, 20.9),
    (2022.80, 20.1), (2022.83, 19.7), (2022.86, 21.3), (2022.89, 22.1), (2022.92, 22.9),
    (2022.95, 23.7), (2022.97, 22.1), (2023.00, 22.9), (2023.03, 21.7), (2023.06, 22.1),
    (2023.09, 20.5), (2023.12, 19.2), (2023.15, 19.7), (2023.18, 19.7), (2023.22, 18.4),
    (2023.25, 17.6), (2023.28, 18.4), (2023.31, 17.6), (2023.35, 18.8), (2023.38, 19.2),
    (2023.41, 18.0), (2023.44, 16.0), (2023.48, 15.6), (2023.53, 15.3), (2023.56, 15.6),
    (2023.58, 13.3), (2023.61, 14.5), (2023.65, 15.1), (2023.68, 16.0), (2023.71, 15.1),
    (2023.74, 16.2), (2023.78, 17.2), (2023.81, 19.7), (2023.84, 20.5), (2023.87, 20.9),
    (2023.90, 22.1), (2023.94, 22.9), (2023.96, 22.5), (2023.98, 21.7), (2024.01, 20.9),
    (2024.03, 19.7), (2024.06, 18.4), (2024.07, 18.4), (2024.10, 17.8), (2024.13, 17.2),
    (2024.15, 16.8), (2024.17, 15.6), (2024.20, 14.5), (2024.22, 14.1), (2024.25, 14.1),
    (2024.27, 14.7), (2024.30, 14.5), (2024.32, 13.5), (2024.34, 12.7), (2024.37, 12.3),
    (2024.41, 12.5), (2024.43, 13.3), (2024.46, 13.9), (2024.49, 14.1), (2024.53, 13.9),
    (2024.56, 14.3), (2024.59, 15.1), (2024.60, 16.2), (2024.63, 16.0), (2024.66, 15.1),
    (2024.70, 14.5), (2024.73, 13.9), (2024.76, 13.3), (2024.78, 13.9), (2024.81, 13.1),
    (2024.83, 11.9), (2024.85, 12.7), (2024.88, 13.5), (2024.92, 13.9), (2024.96, 14.3),
    (2025.00, 14.7), (2025.04, 14.3), (2025.07, 14.3), (2025.10, 13.1), (2025.13, 13.1),
    (2025.17, 13.3), (2025.20, 12.9), (2025.24, 13.1), (2025.27, 16.0), (2025.30, 16.2),
    (2025.34, 16.0), (2025.37, 15.6), (2025.40, 15.3), (2025.43, 15.8), (2025.46, 16.0),
    (2025.49, 14.7), (2025.52, 12.7), (2025.56, 11.9), (2025.60, 11.4), (2025.63, 11.0),
    (2025.66, 11.0), (2025.69, 10.6), (2025.73, 10.4), (2025.77, 10.2), (2025.81, 9.8),
    (2025.85, 9.6), (2025.90, 8.6), (2025.94, 8.4), (2025.98, 8.2), (2026.03, 7.7),
    (2026.07, 8.0), (2026.11, 8.2), (2026.15, 8.6), (2026.20, 9.6), (2026.23, 10.4),
    (2026.27, 10.2), (2026.30, 10.4), (2026.33, 9.8), (2026.37, 10.2), (2026.40, 9.6),
    (2026.42, 10.0),
]

series = [("URA", ura), ("KRBN", krbn), ("SPY", spy), ("TLT", tlt)]

fig, ax = plt.subplots(figsize=(10, 5), dpi=150)
for name, pts in series:
    t, v = np.array(pts).T
    ax.plot(t, v, lw=1, label=name)

ax.set_title("K1445 Fig 2 — Rolling 60-Day Annualized Volatility (%)")
ax.set_xlabel("Date")
ax.set_ylabel("Annualized vol (%)")
ax.set_xticks(range(2010, 2027, 2))
ax.grid(alpha=0.3)
ax.legend(loc="upper center")
fig.subplots_adjust(left=0.062, right=0.985, top=0.925, bottom=0.152)
fig.text(0.071, 0.043, "Source: yfinance | K1445", fontsize=7, color="gray", va="center")
fig.savefig("out.png")
